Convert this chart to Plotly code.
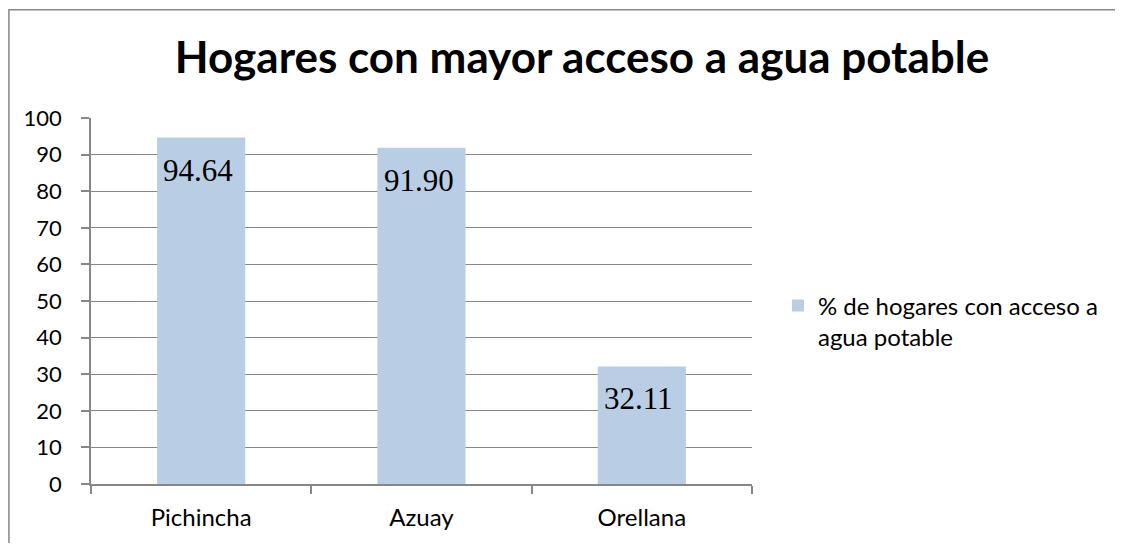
import plotly.graph_objects as go

categories = ["Pichincha", "Azuay", "Orellana"]
values = [94.64, 91.90, 32.11]
value_labels = ["94.64", "91.90", "32.11"]
series_name = "% de hogares con acceso a<br>agua potable"
title_text = "Hogares con mayor acceso a agua potable"

BAR = "#B9CDE5"
GRID = "#878787"

# page offset (browser body margin)
OFF = 8
# plot area in page pixels
PL, PR, PT, PB = 91, 753, 118, 487
W, H = 1123 - 2 * OFF, 551 - 2 * OFF
PW, PH = PR - PL, PB - PT


def px(page_x):
    return (page_x - PL) / PW


def py(page_y):
    return (PB - page_y) / PH


fig = go.Figure()
fig.add_trace(go.Bar(x=categories, y=values, name=series_name,
                     marker=dict(color=BAR, line=dict(width=0)),
                     showlegend=True))

for c, v, t in zip(categories, values, value_labels):
    fig.add_annotation(x=c, y=v, text=t, showarrow=False, yanchor="top",
                       yshift=-13, xshift=-3,
                       font=dict(family="Liberation Serif", size=31, color="black"))

# outer chart frame (only top and left edges are visible in the reference)
xl, xr = px(OFF + 0.8), px(1140)
yt, yb = py(OFF + 0.8), py(570)
fig.add_shape(type="path", xref="paper", yref="paper",
              path=f"M {xr},{yt} L {xl},{yt} L {xl},{yb}",
              line=dict(color=GRID, width=1.5), layer="below")

fig.update_layout(
    width=W, height=H,
    margin=dict(l=PL - OFF, r=W - (PR - OFF), t=PT - OFF, b=H - (PB - OFF)),
    paper_bgcolor="white", plot_bgcolor="white",
    bargap=0.6,
    title=dict(text="<b>" + title_text + "</b>", x=(582 - OFF) / W, xanchor="center",
               y=1 - (58 - OFF) / H, yanchor="middle",
               font=dict(family="Lato", size=44, color="black")),
    font=dict(family="Lato", size=23, color="black"),
    legend=dict(x=px(779), xanchor="left", y=py(323), yanchor="middle",
                valign="top", font=dict(family="Lato", size=24, color="black"),
                bgcolor="rgba(0,0,0,0)"),
    xaxis=dict(showline=True, linecolor=GRID, linewidth=1.5, ticks="outside",
               tickson="boundaries", ticklen=8, tickcolor=GRID, tickwidth=1.5,
               showgrid=False, tickfont=dict(size=24), ticklabelstandoff=11),
    yaxis=dict(range=[0, 100], dtick=10, showline=True, linecolor=GRID, linewidth=1.5,
               ticks="outside", ticklen=8, tickcolor=GRID, tickwidth=1.5,
               showgrid=True, gridcolor=GRID, gridwidth=1.2, zeroline=False,
               tickfont=dict(size=22), ticklabelstandoff=15),
)

fig.write_html("out.html")
